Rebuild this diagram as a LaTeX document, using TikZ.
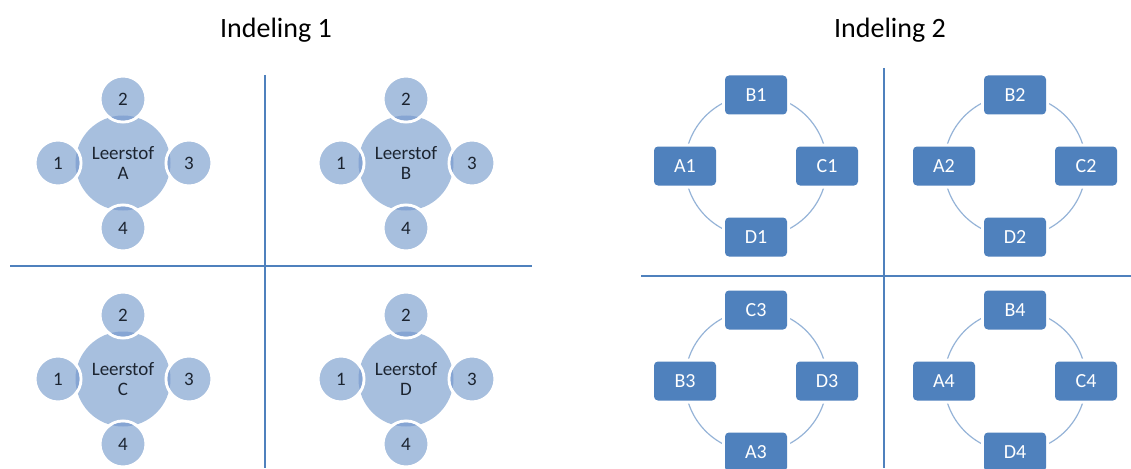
\documentclass[tikz,border=0pt]{standalone}
\usepackage{fontspec}
\setmainfont{Carlito}
\usetikzlibrary{backgrounds}
\definecolor{softblue}{HTML}{A7BFDE}
\definecolor{overlapblue}{HTML}{86A5D3}
\definecolor{rulecol}{HTML}{4F81BD}
\definecolor{boxblue}{HTML}{4F81BD}
\definecolor{ringcol}{HTML}{95B3D7}
\definecolor{inktext}{HTML}{1C2430}

\tikzset{
  title/.style={font=\fontsize{28}{32}\selectfont, text=black, inner sep=0},
  hub/.style={circle, fill=softblue, minimum size=95pt, inner sep=0,
    text=inktext, font=\fontsize{19}{19.5}\selectfont, align=center},
  sat/.style={circle, fill=softblue, draw=white, line width=3pt,
    minimum size=46pt, inner sep=0, text=inktext, font=\fontsize{19}{22}\selectfont},
  tile/.style={rectangle, rounded corners=4pt, fill=boxblue, minimum width=62pt,
    minimum height=39pt, inner sep=0, text=white,
    preaction={draw=white, line width=6pt},
    font=\fontsize{20}{24}\selectfont},
  ring/.style={draw=ringcol, line width=1.2pt},
  divider/.style={draw=rulecol, line width=1.4pt}
}

% one "Leerstof" hub with its four numbered satellites
\newcommand\leercluster[3]{%
  \node[hub] (#1) at (#2) {Leerstof\\#3};
  \path (#1) ++(-65,0) node[sat] (#1-1) {1};
  \path (#1) ++(0,-64) node[sat] (#1-2) {2};
  \path (#1) ++(66,0)  node[sat] (#1-3) {3};
  \path (#1) ++(0,65)  node[sat] (#1-4) {4};
  \begin{scope}
    \clip (#1.center) circle[radius=47.5pt];
    \foreach \s in {1,2,3,4}{\fill[overlapblue] (#1-\s.center) circle[radius=21.5pt];}
  \end{scope}
}

% four tiles on a ring, linked by quarter arcs running behind them
\newcommand\ringquad[6]{%
  \coordinate (#1) at (#2);
  \path (#1) ++(0,-71) node[tile] (#1t) {#3};
  \path (#1) ++(-71,0) node[tile] (#1l) {#4};
  \path (#1) ++(71,0)  node[tile] (#1r) {#5};
  \path (#1) ++(0,71)  node[tile] (#1b) {#6};
  \begin{pgfonlayer}{background}
    \draw[ring] (#1t.center) to[bend left=45] (#1r.center);
    \draw[ring] (#1r.center) to[bend left=45] (#1b.center);
    \draw[ring] (#1b.center) to[bend left=45] (#1l.center);
    \draw[ring] (#1l.center) to[bend left=45] (#1t.center);
  \end{pgfonlayer}
}

\begin{document}
\begin{tikzpicture}[x=1pt, y=-1pt]
  \useasboundingbox (0,0) rectangle (1131,468);

  % titles
  \node[title] (titleA) at (276,30) {Indeling 1};
  \node[title] (titleB) at (890,30) {Indeling 2};

  % left grid
  \coordinate (lv1) at (265,75);  \coordinate (lv2) at (265,468);
  \coordinate (lh1) at (10,266);  \coordinate (lh2) at (532,266);
  \draw[divider] (lv1) -- (lv2);
  \draw[divider] (lh1) -- (lh2);

  \leercluster{LA}{123,163}{A}
  \leercluster{LB}{406,163}{B}
  \leercluster{LC}{123,379}{C}
  \leercluster{LD}{406,379}{D}

  % right grid
  \coordinate (rv1) at (884,68);  \coordinate (rv2) at (884,468);
  \coordinate (rh1) at (641,276); \coordinate (rh2) at (1131,276);
  \draw[divider] (rv1) -- (rv2);
  \draw[divider] (rh1) -- (rh2);

  \ringquad{QA}{756,166}{B1}{A1}{C1}{D1}
  \ringquad{QB}{1015,166}{B2}{A2}{C2}{D2}
  \ringquad{QC}{756,381}{C3}{B3}{D3}{A3}
  \ringquad{QD}{1015,381}{B4}{A4}{C4}{D4}
\end{tikzpicture}
\end{document}
